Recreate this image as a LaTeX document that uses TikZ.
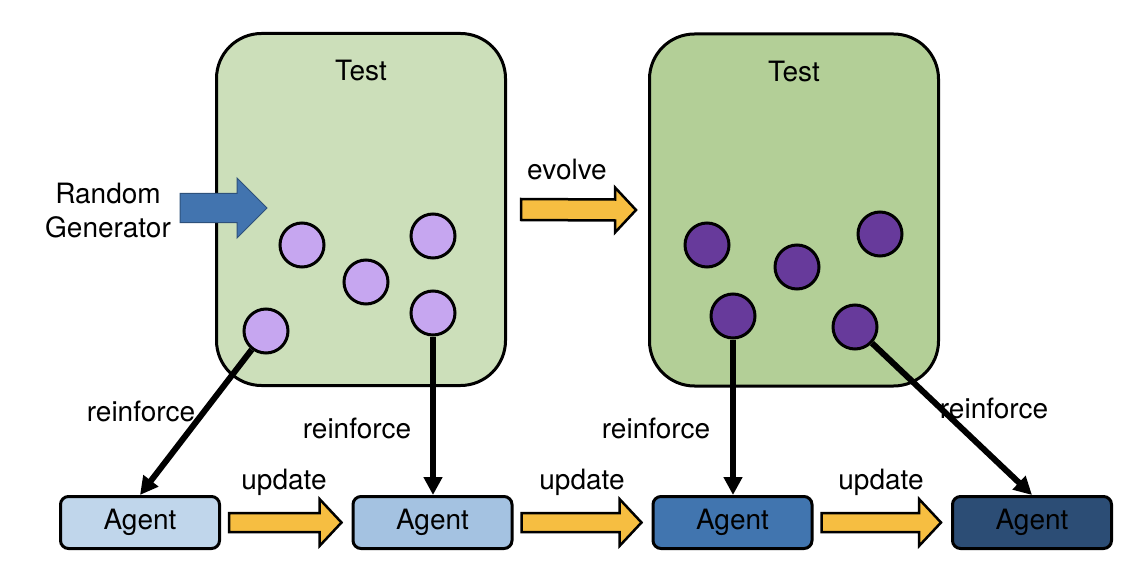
\documentclass[tikz,border=0pt]{standalone}
\usepackage{fontspec}
\setmainfont{TeX Gyre Heros}
\usetikzlibrary{positioning,calc,arrows.meta}

\definecolor{testA}{HTML}{CCDFBA}
\definecolor{testB}{HTML}{B3CF97}
\definecolor{indA}{HTML}{C6A6F0}
\definecolor{indB}{HTML}{673A9B}
\definecolor{agA}{HTML}{C0D6EB}
\definecolor{agB}{HTML}{A4C2E1}
\definecolor{agC}{HTML}{4175AF}
\definecolor{agD}{HTML}{2C4D75}
\definecolor{evo}{HTML}{F6BE41}
\definecolor{gen}{HTML}{4274AF}

\tikzset{
  testbox/.style={draw, line width=3pt, rounded corners=45pt, minimum width=289pt, minimum height=352pt},
  agent/.style={draw, line width=3pt, rounded corners=8pt, minimum width=159pt, minimum height=52pt, font=\fontsize{28}{33}\selectfont},
  ind/.style={circle, draw, line width=3pt, minimum size=44pt, inner sep=0pt},
  lbl/.style={inner sep=0pt, font=\fontsize{28}{34}\selectfont, align=center},
  reinf/.style={line width=6pt, -{Triangle[length=18pt,width=18pt]}},
  yarrow/.style={draw, line width=2.5pt, fill=evo, line join=miter},
  barrow/.style={draw=gen!70!black, line width=1pt, fill=gen},
}

% fat arrow: style, tail, tip, shaft half width, head length, head half width
\newcommand{\fatarrow}[6]{%
  \draw[#1] ($(#2)+(0,#4)$) -- ($(#3)+(-#5,#4)$) -- ($(#3)+(-#5,#6)$) -- (#3)
    -- ($(#3)+(-#5,-#6)$) -- ($(#3)+(-#5,-#4)$) -- ($(#2)+(0,-#4)$) -- cycle;}

\begin{document}
\begin{tikzpicture}[x=1pt, y=-1pt]
  \useasboundingbox (0,0) rectangle (1148,564);
  % Tests
  \node[testbox, fill=testA] (test1) at (361,209.5) {};
  \node[testbox, fill=testB] (test2) at (794,210) {};
  \node[lbl, below=28pt of test1.north] (t1) {Test};
  \node[lbl, below=28pt of test2.north] (t2) {Test};
  % individuals
  \node[ind, fill=indA] (c1) at (302,245) {};
  \node[ind, fill=indA] (c2) at (366,282) {};
  \node[ind, fill=indA] (c3) at (433,236) {};
  \node[ind, fill=indA] (c4) at (433,313) {};
  \node[ind, fill=indA] (c5) at (266,331) {};
  \node[ind, fill=indB] (d1) at (707,245) {};
  \node[ind, fill=indB] (d2) at (797,267) {};
  \node[ind, fill=indB] (d3) at (880,234) {};
  \node[ind, fill=indB] (d4) at (733,316) {};
  \node[ind, fill=indB] (d5) at (855,327) {};
  % Agents
  \node[agent, fill=agA] (ag1) at (140,522.5) {Agent};
  \node[agent, fill=agB] (ag2) at (432.5,522.5) {Agent};
  \node[agent, fill=agC] (ag3) at (732.5,522.5) {Agent};
  \node[agent, fill=agD] (ag4) at (1032,522.5) {Agent};
  % generator
  \node[lbl] (rg) at (108,211) {Random\\Generator};
  \coordinate (g0) at (180,208);
  \coordinate (g1) at (267,208);
  \fatarrow{barrow}{g0}{g1}{14.5}{30}{30}
  % evolve
  \coordinate (e0) at ($(test1.east)+(14,0)$);
  \coordinate (e1) at ($(test2.west)+(-12,0)$);
  \fatarrow{yarrow}{e0}{e1}{10.5}{21}{22.5}
  \node[lbl] (ev) at (567,170) {evolve};
  % updates
  \foreach \a/\b/\x in {ag1/ag2/284, ag2/ag3/582, ag3/ag4/881} {
    \coordinate (u0) at ($(\a.east)+(8,0)$);
    \coordinate (u1) at ($(\b.west)+(-10,0)$);
    \fatarrow{yarrow}{u0}{u1}{9.5}{22}{23.5}
    \node[lbl] at (\x,482) {update};
  }
  % reinforce
  \draw[reinf] (c5) -- (ag1.north);
  \draw[reinf] (c4) -- (c4 |- ag2.north);
  \draw[reinf] (d4) -- (d4 |- ag3.north);
  \draw[reinf] (d5) -- (ag4.north);
  \node[lbl] (r1) at (141,411) {reinforce};
  \node[lbl] (r2) at (357,428) {reinforce};
  \node[lbl] (r3) at (656,428) {reinforce};
  \node[lbl] (r4) at (994,408) {reinforce};
\end{tikzpicture}
\end{document}
